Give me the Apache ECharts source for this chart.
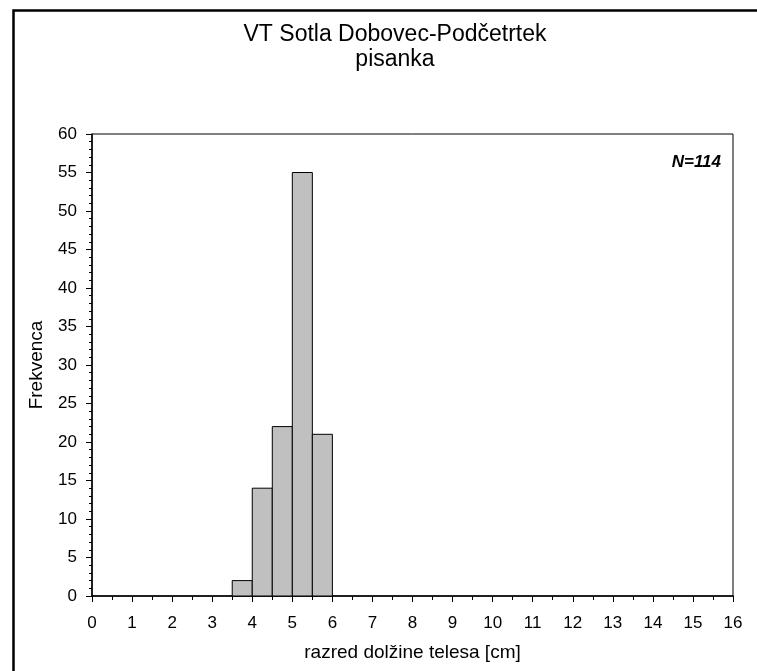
<!DOCTYPE html>
<html>
<head>
<meta charset="utf-8">
<script src="https://cdn.jsdelivr.net/npm/echarts@6/dist/echarts.min.js"></script>
<style>html,body{margin:0;padding:0;background:#fff;}#c{width:757px;height:671px;}</style>
</head>
<body>
<div id="c"></div>
<script>
const titleLines = ['VT Sotla Dobovec-Podčetrtek', 'pisanka'];
const xName = 'razred dolžine telesa [cm]';
const yName = 'Frekvenca';
const nLabel = 'N=114';
const binStarts = [3.5, 4.0, 4.5, 5.0, 5.5];
const binWidth = 0.5;
const counts = [2, 14, 22, 55, 21];
const xMin = 0, xMax = 16, xStep = 1;
const yMin = 0, yMax = 60, yStep = 5;

const font = 'Liberation Sans, Arial, sans-serif';
const chart = echarts.init(document.getElementById('c'), null, {renderer: 'canvas'});
const data = binStarts.map((s, i) => [s, s + binWidth, counts[i]]);

chart.setOption({
  animation: false,
  backgroundColor: '#fff',
  title: {
    text: titleLines.join('\n'),
    left: 390, top: 17, textAlign: 'center',
    textStyle: {fontFamily: font, fontSize: 23, fontWeight: 'normal', color: '#000', lineHeight: 25}
  },
  grid: {left: 92, top: 134, width: 641, height: 462, show: true, borderColor: '#000', borderWidth: 1, backgroundColor: 'transparent', containLabel: false},
  xAxis: {
    type: 'value', min: xMin, max: xMax, interval: xStep,
    name: xName, nameLocation: 'middle', nameGap: 47,
    nameTextStyle: {fontFamily: font, fontSize: 19, color: '#000'},
    axisLine: {show: true, onZero: false, lineStyle: {color: '#000', width: 1.5}},
    axisTick: {show: true, inside: false, length: 6, lineStyle: {color: '#000', width: 1}},
    minorTick: {show: true, splitNumber: 2, length: 4, lineStyle: {color: '#000', width: 1}},
    axisLabel: {fontFamily: font, fontSize: 17, color: '#000', margin: 19},
    splitLine: {show: false}
  },
  yAxis: {
    type: 'value', min: yMin, max: yMax, interval: yStep,
    name: yName, nameLocation: 'middle', nameGap: 46, nameRotate: 90,
    nameTextStyle: {fontFamily: font, fontSize: 19, color: '#000'},
    axisLine: {show: true, onZero: false, lineStyle: {color: '#000', width: 1.5}},
    axisTick: {show: true, inside: false, length: 6, lineStyle: {color: '#000', width: 1}},
    minorTick: {show: true, splitNumber: 5, length: 3, lineStyle: {color: '#000', width: 1}},
    axisLabel: {fontFamily: font, fontSize: 17, color: '#000', margin: 15},
    splitLine: {show: false}
  },
  series: [{
    type: 'custom',
    data: data,
    encode: {x: [0, 1], y: 2},
    renderItem: function (params, api) {
      const p0 = api.coord([api.value(0), api.value(2)]);
      const p1 = api.coord([api.value(1), 0]);
      return {
        type: 'rect',
        shape: {x: p0[0], y: p0[1], width: p1[0] - p0[0], height: p1[1] - p0[1]},
        style: {fill: '#C0C0C0', stroke: '#000', lineWidth: 1}
      };
    }
  }],
  graphic: [
    {type: 'rect', left: 11, top: 8, shape: {width: 800, height: 700}, style: {fill: 'none', stroke: '#000', lineWidth: 2.5}, silent: true},
    {type: 'text', right: 36, top: 154, style: {text: nLabel, font: 'italic bold 17px ' + font, fill: '#000'}}
  ]
});
</script>
</body>
</html>
